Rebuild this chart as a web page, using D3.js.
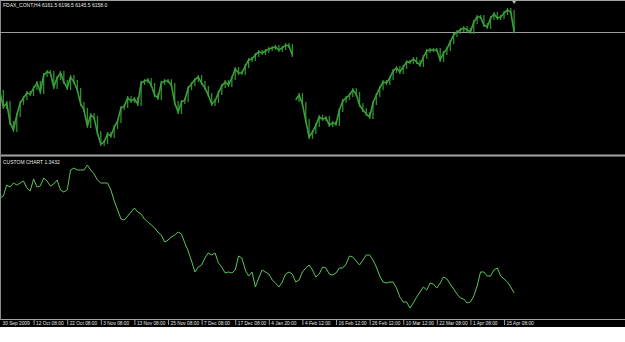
<!DOCTYPE html>
<html>
<head>
<meta charset="utf-8">
<script src="https://d3js.org/d3.v7.min.js"></script>
<style>
  html, body { margin: 0; padding: 0; background: #fff; }
  #chart { font-family: 'Liberation Sans', Arial, sans-serif; }
  .axis path { display: none; }
  .axis line { stroke: #9a9a9a; }
  .axis text { fill: #e6e6e6; font-size: 4.8px; }
</style>
</head>
<body>
<div id="chart"></div>
<script>
// FDAX H4 closes, one value every 2 bars
const fdaxClose = [
  5786, 5693, 5718, 5595, 5552, 5644, 5718, 5749, 5780, 5773,
  5810, 5841, 5786, 5890, 5909, 5903, 5816, 5872, 5903, 5847,
  5810, 5878, 5847, 5798, 5712, 5675, 5576, 5644, 5626, 5533,
  5465, 5478, 5527, 5515, 5570, 5607, 5687, 5699, 5749, 5730,
  5743, 5712, 5841, 5853, 5860, 5829, 5767, 5749, 5841, 5853,
  5853, 5829, 5718, 5662, 5724, 5736, 5810, 5835, 5860, 5878,
  5841, 5810, 5767, 5712, 5730, 5780, 5823, 5847, 5829, 5872,
  5927, 5903, 5903, 5946, 5983, 5989, 6014, 6032, 6026, 6038,
  6051, 6057, 6063, 6044, 6057, 6075, 6069, 6014,
  // data gap (Jan -> Feb)
  5736, 5767, 5712, 5607, 5509, 5539, 5582, 5632, 5619, 5626,
  5582, 5595, 5589, 5675, 5730, 5749, 5767, 5798, 5773, 5706,
  5675, 5650, 5632, 5718, 5767, 5810, 5847, 5841, 5872, 5915,
  5934, 5909, 5940, 5970, 5970, 5989, 5970, 5952, 6001, 6038,
  6044, 6044, 6044, 5983, 6026, 6051, 6094, 6137, 6155, 6168,
  6180, 6168, 6155, 6217, 6248, 6248, 6198, 6186, 6241, 6266,
  6241, 6248, 6272, 6291, 6278, 6158
];
const fdaxGapAt = 88;
const fdaxLast = 6158.0;
const fdaxHeader = "FDAX_CONT,H4  6161.5 6196.5 6145.5 6158.0";

// custom chart line, same sampling
const customValue = [
  1.4572, 1.4596, 1.4728, 1.4704, 1.4752, 1.4728, 1.4752, 1.4776, 1.4692, 1.4656,
  1.4800, 1.4704, 1.4716, 1.4812, 1.4776, 1.4716, 1.4740, 1.4788, 1.4668, 1.4644,
  1.4668, 1.4908, 1.4932, 1.4908, 1.4908, 1.4908, 1.4968, 1.4908, 1.4860, 1.4788,
  1.4752, 1.4752, 1.4752, 1.4668, 1.4536, 1.4428, 1.4320, 1.4308, 1.4356, 1.4404,
  1.4452, 1.4404, 1.4380, 1.4320, 1.4284, 1.4248, 1.4212, 1.4164, 1.4128, 1.4044,
  1.4068, 1.4104, 1.4128, 1.4164, 1.4140, 1.4032, 1.3936, 1.3816, 1.3684, 1.3744,
  1.3768, 1.3852, 1.3912, 1.3888, 1.3912, 1.3792, 1.3744, 1.3672, 1.3684, 1.3672,
  1.3708, 1.3876, 1.3852, 1.3708, 1.3636, 1.3684, 1.3504, 1.3612, 1.3708, 1.3684,
  1.3660, 1.3588, 1.3552, 1.3504, 1.3564, 1.3660, 1.3684, 1.3660, 1.3564, 1.3588,
  1.3684, 1.3732, 1.3768, 1.3708, 1.3624, 1.3660, 1.3744, 1.3732, 1.3660, 1.3648,
  1.3672, 1.3732, 1.3732, 1.3780, 1.3876, 1.3864, 1.3816, 1.3768, 1.3828, 1.3888,
  1.3888, 1.3828, 1.3744, 1.3636, 1.3564, 1.3552, 1.3564, 1.3564, 1.3492, 1.3384,
  1.3324, 1.3324, 1.3252, 1.3312, 1.3384, 1.3444, 1.3504, 1.3468, 1.3552, 1.3540,
  1.3492, 1.3552, 1.3624, 1.3600, 1.3540, 1.3480, 1.3420, 1.3372, 1.3360, 1.3312,
  1.3324, 1.3396, 1.3516, 1.3684, 1.3684, 1.3636, 1.3636, 1.3708, 1.3732, 1.3636,
  1.3600, 1.3564, 1.3504, 1.3432
];
const customHeader = "CUSTOM CHART 1.3432";

// time axis, one label every 10 samples
const timeLabels = [
  "30 Sep 2009", "12 Oct 08:00", "22 Oct 08:00", "3 Nov 08:00", "13 Nov 08:00",
  "25 Nov 08:00", "7 Dec 08:00", "17 Dec 08:00", "4 Jan 20:00", "4 Feb 12:00",
  "16 Feb 12:00", "26 Feb 12:00", "10 Mar 12:00", "22 Mar 08:00", "1 Apr 08:00",
  "15 Apr 08:00"
];
const labelEvery = 10;

const width = 625, height = 342;
const plotBottom = 327;

const svg = d3.select("#chart").append("svg")
  .attr("width", width)
  .attr("height", height);

// black chart area, white strip under the time scale
svg.append("rect").attr("width", width).attr("height", plotBottom).attr("fill", "#000");

const x = d3.scaleLinear().domain([0, 186]).range([0, width]);
const yTop = d3.scaleLinear().domain([5410, 6340]).range([153, 2]);
const yBot = d3.scaleLinear().domain([1.3132, 1.5064]).range([318, 157]);

// frames
const grey = "#a3a3a3";
svg.append("line").attr("x1", 0).attr("x2", width).attr("y1", 0.5).attr("y2", 0.5).attr("stroke", grey);
svg.append("rect").attr("x", 0).attr("y", 154.5).attr("width", width).attr("height", 2).attr("fill", grey);
svg.append("line").attr("x1", 0).attr("x2", width).attr("y1", 319.5).attr("y2", 319.5).attr("stroke", grey);
svg.append("line").attr("x1", 0.5).attr("x2", 0.5).attr("y1", 0).attr("y2", 320).attr("stroke", "#8a8a8a");

// bid line
svg.append("line")
  .attr("x1", 0).attr("x2", width)
  .attr("y1", Math.round(yTop(fdaxLast)) + 0.5).attr("y2", Math.round(yTop(fdaxLast)) + 0.5)
  .attr("stroke", "#9c9c9c");

// small marker over the last bar
const lx = x(fdaxClose.length - 1);
svg.append("path")
  .attr("d", `M${lx - 2},1 L${lx + 2},1 L${lx},4 Z`)
  .attr("fill", "#b8b8b8");

// top: bars between consecutive closes + close line
const gTop = svg.append("g");
const segs = [fdaxClose.slice(0, fdaxGapAt).map((v, i) => [i, v]),
              fdaxClose.slice(fdaxGapAt).map((v, i) => [i + fdaxGapAt, v])];

segs.forEach(seg => {
  gTop.selectAll(null)
    .data(seg.slice(1).map((d, k) => [d, seg[k]]))
    .enter().append("line")
    .attr("x1", d => x(d[0][0])).attr("x2", d => x(d[0][0]))
    .attr("y1", d => yTop(Math.max(d[0][1], d[1][1])) - 2)
    .attr("y2", d => yTop(Math.min(d[0][1], d[1][1])) + 2)
    .attr("stroke", "#2f8f2f")
    .attr("stroke-width", 1.3);

  gTop.append("path")
    .datum(seg)
    .attr("fill", "none")
    .attr("stroke", "#3aa03a")
    .attr("stroke-width", 1.6)
    .attr("d", d3.line().x(d => x(d[0])).y(d => yTop(d[1])));
});

// bottom: custom chart line
svg.append("path")
  .datum(customValue)
  .attr("fill", "none")
  .attr("stroke", "#5cc45c")
  .attr("stroke-width", 1)
  .attr("d", d3.line().x((d, i) => x(i)).y(d => yBot(d)));

// headers
svg.append("text").attr("x", 3).attr("y", 7)
  .attr("fill", "#e6e6e6").style("font-size", "5px").text(fdaxHeader);
svg.append("text").attr("x", 3).attr("y", 164)
  .attr("fill", "#e6e6e6").style("font-size", "5px").text(customHeader);

// time scale
const axis = d3.axisBottom(x)
  .tickValues(timeLabels.map((t, k) => k * labelEvery))
  .tickFormat((d, k) => timeLabels[k])
  .tickSize(5)
  .tickPadding(0);

const gAxis = svg.append("g").attr("class", "axis")
  .attr("transform", "translate(0,320)")
  .call(axis);

gAxis.selectAll(".tick text")
  .attr("text-anchor", "start")
  .attr("dx", 2)
  .attr("y", 0)
  .attr("dy", "5.2px");
gAxis.selectAll(".tick").filter((d, k) => k === 0).select("line").remove();
</script>
</body>
</html>
